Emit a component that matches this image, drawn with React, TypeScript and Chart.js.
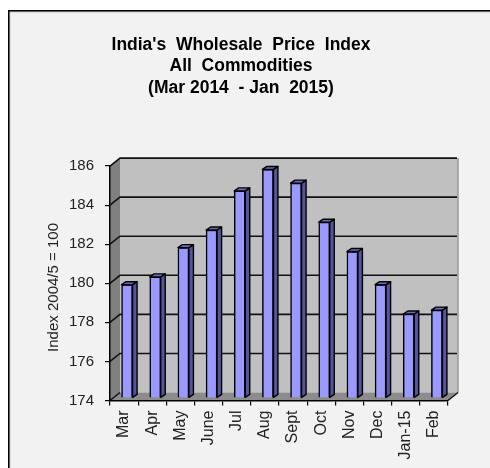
import React, { useEffect, useRef } from "react";
import { Chart, registerables } from "chart.js";

Chart.register(...registerables);

const categories = ["Mar", "Apr", "May", "June", "Jul", "Aug", "Sept", "Oct", "Nov", "Dec", "Jan-15", "Feb"];
const indexValues = [179.8, 180.2, 181.7, 182.6, 184.6, 185.7, 185.0, 183.0, 181.5, 179.8, 178.3, 178.5];
const titleLines = ["India's  Wholesale  Price  Index", "All  Commodities", "(Mar 2014  - Jan  2015)"];
const yAxisTitle = "Index 2004/5 = 100";
const yMin = 174;
const yMax = 186;
const yStep = 2;

const FONT = "'Liberation Sans', Arial, sans-serif";
const WALL_DX = 10;
const WALL_DY = 8;
const BAR_SHIFT_X = 3;
const BAR_SHIFT_Y = -2.5;
const SIDE_DX = 4.5;
const SIDE_DY = 3;

const poly = (ctx: CanvasRenderingContext2D, pts: number[][]) => {
  ctx.beginPath();
  pts.forEach(([x, y], i) => (i ? ctx.lineTo(x, y) : ctx.moveTo(x, y)));
  ctx.closePath();
};

const scenePlugin = {
  id: "scene3d",
  beforeDraw(chart: any) {
    const { ctx, width, height, chartArea: a, scales } = chart;
    ctx.save();
    ctx.fillStyle = "#ffffff";
    ctx.fillRect(0, 0, width, height);
    ctx.fillStyle = "#f2f2f2";
    ctx.fillRect(8, 10, width - 8, height - 10);
    ctx.fillStyle = "#c8c8c8";
    ctx.fillRect(8, 10, width - 8, 2.5);
    ctx.fillRect(8, 10, 2.5, height - 10);
    ctx.fillStyle = "#000000";
    ctx.fillRect(8, 10, width - 8, 1.5);
    ctx.fillRect(8, 10, 1.5, height - 10);

    const l = a.left, r = a.right, t = a.top, b = a.bottom;
    const dx = WALL_DX, dy = WALL_DY;
    ctx.fillStyle = "#c0c0c0";
    ctx.fillRect(l + dx, t - dy, r - l, b - t);
    ctx.strokeStyle = "#9a9a9a";
    ctx.lineWidth = 1.5;
    ctx.beginPath();
    ctx.moveTo(r + dx, t - dy);
    ctx.lineTo(r + dx, b - dy);
    ctx.stroke();
    ctx.fillStyle = "#808080";
    poly(ctx, [[l, t], [l + dx, t - dy], [l + dx, b - dy], [l, b]]);
    ctx.fill();
    ctx.fillStyle = "#8c8c8c";
    poly(ctx, [[l, b], [l + dx, b - dy], [r + dx, b - dy], [r, b]]);
    ctx.fill();

    ctx.strokeStyle = "#111111";
    scales.y.ticks.forEach((tick: any) => {
      const y = scales.y.getPixelForValue(tick.value);
      ctx.lineWidth = 1.6;
      ctx.beginPath();
      ctx.moveTo(l, y);
      ctx.lineTo(l + dx, y - dy);
      if (tick.value !== yMin) ctx.lineTo(r + dx - 1, y - dy);
      ctx.stroke();
    });
    ctx.lineWidth = 1.5;
    ctx.beginPath();
    ctx.moveTo(r, b);
    ctx.lineTo(r + dx, b - dy);
    ctx.stroke();
    ctx.restore();
  },
  beforeDatasetsDraw(chart: any) {
    chart.ctx.save();
    chart.ctx.translate(BAR_SHIFT_X, BAR_SHIFT_Y);
  },
  afterDatasetsDraw(chart: any) {
    const ctx = chart.ctx;
    ctx.strokeStyle = "#000000";
    ctx.lineWidth = 1.4;
    ctx.lineJoin = "round";
    chart.getDatasetMeta(0).data.forEach((bar: any) => {
      const { x, y, base, width } = bar.getProps(["x", "y", "base", "width"]);
      const lx = x - width / 2, rx = x + width / 2;
      ctx.fillStyle = "#55559e";
      poly(ctx, [[rx, y], [rx + SIDE_DX, y - SIDE_DY], [rx + SIDE_DX, base - SIDE_DY], [rx, base]]);
      ctx.fill();
      ctx.stroke();
      ctx.fillStyle = "#6c6cc0";
      poly(ctx, [[lx, y], [lx + SIDE_DX, y - SIDE_DY], [rx + SIDE_DX, y - SIDE_DY], [rx, y]]);
      ctx.fill();
      ctx.stroke();
    });
    ctx.restore();
  },
};

export default function App() {
  const ref = useRef<HTMLCanvasElement>(null);
  useEffect(() => {
    const chart = new Chart(ref.current as HTMLCanvasElement, {
      type: "bar",
      data: {
        labels: categories,
        datasets: [
          {
            data: indexValues,
            base: yMin,
            backgroundColor: "#9999ff",
            borderColor: "#000000",
            borderWidth: 1.5,
            barThickness: 11,
            clip: false as any,
          },
        ],
      },
      options: {
        responsive: false,
        animation: false,
        devicePixelRatio: 1,
        layout: { padding: { left: 34, right: 42, top: 0, bottom: 0 } },
        plugins: {
          legend: { display: false },
          tooltip: { enabled: false },
          title: {
            display: true,
            text: titleLines,
            color: "#000000",
            font: { family: FONT, size: 17.5, weight: "bold", lineHeight: 1.23 },
            padding: { top: 34, bottom: 67.5 },
          },
        },
        scales: {
          x: {
            offset: true,
            grid: { offset: true, drawOnChartArea: false, color: "#000000", tickLength: 5, lineWidth: 1.2 },
            border: { display: true, color: "#000000", width: 1.5 },
            ticks: {
              color: "#222222",
              font: { family: FONT, size: 16 },
              minRotation: 90,
              maxRotation: 90,
              autoSkip: false,
              padding: 5,
            },
            afterFit(s: any) {
              s.height = 67.5;
            },
          },
          y: {
            min: yMin,
            max: yMax,
            grid: { drawOnChartArea: false, color: "#000000", tickLength: 5, lineWidth: 1.2 },
            border: { display: true, color: "#000000", width: 1.5 },
            ticks: {
              stepSize: yStep,
              color: "#222222",
              font: { family: FONT, size: 15 },
              padding: 11,
            },
            title: {
              display: true,
              text: yAxisTitle + "  ",
              color: "#222222",
              font: { family: FONT, size: 15 },
              padding: { top: 11, bottom: 0 },
            },
            afterFit(s: any) {
              s.width = 76;
            },
          },
        },
      } as any,
      plugins: [scenePlugin as any],
    });
    return () => chart.destroy();
  }, []);
  return (
    <canvas
      ref={ref}
      width={490}
      height={468}
      style={{ position: "fixed", left: 0, top: 0, display: "block" }}
    />
  );
}
